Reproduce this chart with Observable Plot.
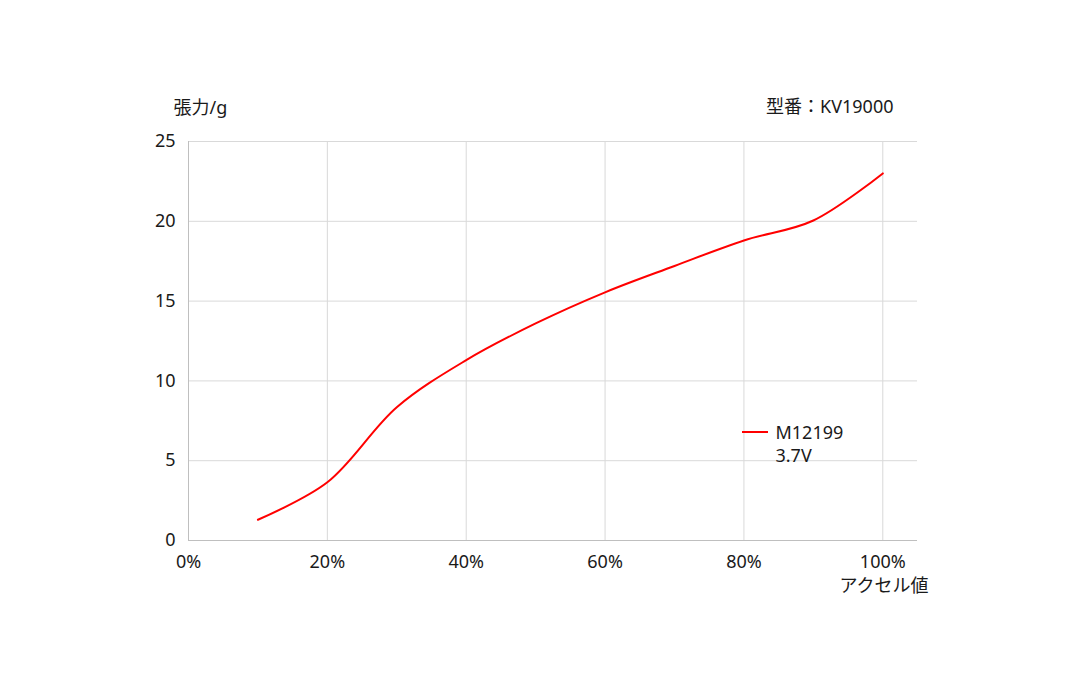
<!DOCTYPE html>
<html>
<head>
<meta charset="utf-8">
<script src="https://cdn.jsdelivr.net/npm/d3@7"></script>
<script src="https://cdn.jsdelivr.net/npm/@observablehq/plot@0.6"></script>
<style>
  html, body { margin: 0; padding: 0; background: #fff; }
  #wrap { position: relative; width: 1076px; height: 692px; font-family: "Noto Sans", "Noto Sans CJK JP", sans-serif; }
  #legend-swatch { position: absolute; left: 742px; top: 431px; width: 26px; height: 0; border-top: 2px solid #ff0000; }
</style>
</head>
<body>
<div id="wrap"></div>
<script>
// Data
const accel = [0.1, 0.2, 0.3, 0.4, 0.5, 0.6, 0.7, 0.8, 0.9, 1.0];
const tension = [1.3, 3.65, 8.35, 11.3, 13.6, 15.55, 17.2, 18.8, 20.05, 23.0];
const xTicks = [0, 0.2, 0.4, 0.6, 0.8, 1.0];
const yTicks = [0, 5, 10, 15, 20, 25];
const seriesName = "M12199\n3.7V";
const yLabel = "張力/g";
const xLabel = "アクセル値";
const modelLabel = "型番：KV19000";

const data = accel.map((a, i) => ({accel: a, tension: tension[i]}));

const font = `"Noto Sans", "Noto Sans CJK JP", sans-serif`;

const chart = Plot.plot({
  width: 1076,
  height: 692,
  marginLeft: 188,
  marginRight: 159,
  marginTop: 141,
  marginBottom: 152,
  style: {fontFamily: font, fontSize: "18px", color: "#1a1a1a", background: "#fff"},
  x: {domain: [0, 1.05], ticks: xTicks, tickFormat: d3.format(".0%"), label: null},
  y: {domain: [0, 25], ticks: yTicks, label: null},
  marks: [
    Plot.gridX(xTicks, {stroke: "#d9d9d9", strokeOpacity: 1}),
    Plot.gridY(yTicks, {stroke: "#d9d9d9", strokeOpacity: 1}),
    Plot.ruleY([0], {stroke: "#bfbfbf", strokeWidth: 1}),
    Plot.ruleX([0], {stroke: "#bfbfbf", strokeWidth: 1}),
    Plot.axisX(xTicks, {tickSize: 0, tickPadding: 15, tickFormat: d3.format(".0%"), label: null, fill: "#1a1a1a"}),
    Plot.axisY(yTicks, {tickSize: 0, tickPadding: 13, label: null, fill: "#1a1a1a"}),
    Plot.line(data, {x: "accel", y: "tension", stroke: "#ff0000", strokeWidth: 2, curve: "catmull-rom"}),
    Plot.text([yLabel], {frameAnchor: "top-left", textAnchor: "start", lineAnchor: "middle", dx: -15, dy: -33, fill: "#1a1a1a"}),
    Plot.text([modelLabel], {frameAnchor: "top-right", textAnchor: "end", lineAnchor: "middle", dx: -24, dy: -34, fill: "#1a1a1a"}),
    Plot.text([xLabel], {frameAnchor: "bottom-right", textAnchor: "end", lineAnchor: "middle", dx: 11, dy: 46, fill: "#1a1a1a"}),
    Plot.text([seriesName], {frameAnchor: "top-left", textAnchor: "start", lineAnchor: "middle", lineHeight: 1.28, dx: 587, dy: 301.5, fill: "#1a1a1a"})
  ]
});

const wrap = document.getElementById("wrap");
wrap.appendChild(chart);
const sw = document.createElement("div");
sw.id = "legend-swatch";
wrap.appendChild(sw);
</script>
</body>
</html>
